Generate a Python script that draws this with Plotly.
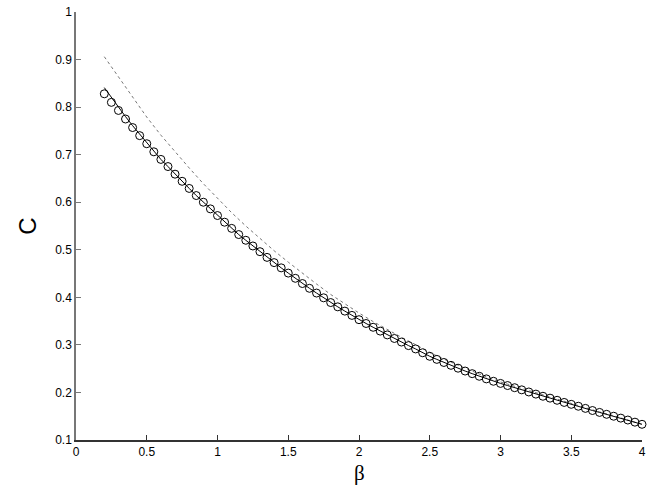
import plotly.graph_objects as go

# Sampled values (circles), beta = 0.2 ... 4.0 step 0.05
beta = [round(0.2 + 0.05 * i, 2) for i in range(77)]
c_values = [
    0.828, 0.810, 0.793, 0.775, 0.757, 0.740, 0.723, 0.706, 0.690, 0.675,
    0.659, 0.644, 0.629, 0.614, 0.600, 0.586, 0.572, 0.558, 0.545, 0.532,
    0.520, 0.508, 0.496, 0.484, 0.473, 0.462, 0.451, 0.440, 0.429, 0.419,
    0.409, 0.399, 0.389, 0.380, 0.371, 0.362, 0.353, 0.345, 0.337, 0.329,
    0.321, 0.3135, 0.306, 0.2985, 0.2915, 0.2835, 0.276, 0.2695, 0.263, 0.257,
    0.251, 0.245, 0.2395, 0.234, 0.2285, 0.2235, 0.219, 0.2145, 0.210, 0.2055,
    0.201, 0.1965, 0.192, 0.188, 0.1835, 0.179, 0.175, 0.171, 0.1665, 0.162,
    0.158, 0.154, 0.150, 0.146, 0.142, 0.1375, 0.133,
]

# Solid approximation (slightly above the circles at small beta)
c_solid = [
    0.841, 0.820, 0.799, 0.780, 0.761, 0.743, 0.725, 0.707, 0.690, 0.675,
    0.659, 0.644, 0.629, 0.614, 0.600, 0.586, 0.572, 0.558, 0.545, 0.532,
    0.520, 0.508, 0.496, 0.484, 0.473, 0.462, 0.451, 0.440, 0.429, 0.419,
    0.409, 0.399, 0.389, 0.380, 0.371, 0.362, 0.353, 0.345, 0.337, 0.329,
    0.321, 0.3135, 0.306, 0.2985, 0.2915, 0.2835, 0.276, 0.2695, 0.263, 0.257,
    0.251, 0.245, 0.2395, 0.234, 0.2285, 0.2235, 0.219, 0.2145, 0.210, 0.2055,
    0.201, 0.1965, 0.192, 0.188, 0.1835, 0.179, 0.175, 0.171, 0.1665, 0.162,
    0.158, 0.154, 0.150, 0.146, 0.142, 0.1375, 0.133,
]

# Dotted approximation, beta = 0.2 ... 4.0 step 0.1
beta_dot = [round(0.2 + 0.1 * i, 1) for i in range(39)]
c_dot = [
    0.906, 0.863, 0.820, 0.779, 0.741, 0.706, 0.672, 0.639, 0.608, 0.578,
    0.550, 0.523, 0.498, 0.474, 0.450, 0.428, 0.406, 0.386, 0.367, 0.349,
    0.332, 0.316, 0.3005, 0.284, 0.270, 0.257, 0.2445, 0.2325, 0.222, 0.213,
    0.203, 0.194, 0.1855, 0.176, 0.1675, 0.159, 0.151, 0.1425, 0.133,
]

x_ticks = [0, 0.5, 1, 1.5, 2, 2.5, 3, 3.5, 4]
x_labels = ['0', '0.5', '1', '1.5', '2', '2.5', '3', '3.5', '4']
y_ticks = [0.1, 0.2, 0.3, 0.4, 0.5, 0.6, 0.7, 0.8, 0.9, 1]
y_labels = ['0.1', '0.2', '0.3', '0.4', '0.5', '0.6', '0.7', '0.8', '0.9', '1']

fig = go.Figure()

fig.add_trace(go.Scatter(
    x=beta_dot, y=c_dot, mode='lines',
    line=dict(color='#777777', width=1, dash='dot'),
    showlegend=False
))

fig.add_trace(go.Scatter(
    x=beta, y=c_solid, mode='lines',
    line=dict(color='black', width=1),
    showlegend=False
))

fig.add_trace(go.Scatter(
    x=beta, y=c_values, mode='markers',
    marker=dict(symbol='circle-open', size=8, color='black', line=dict(width=1)),
    showlegend=False, cliponaxis=False
))

# x-axis label placed under the tick labels
fig.add_annotation(
    text='β', xref='paper', yref='paper', x=0.5, y=0,
    xanchor='center', yanchor='middle', yshift=-33, showarrow=False,
    font=dict(family='Liberation Serif, Times New Roman', size=21, color='black')
)

fig.update_layout(
    width=654,
    height=491,
    margin=dict(l=76, r=12, t=12, b=51, autoexpand=False),
    plot_bgcolor='white',
    paper_bgcolor='white',
    font=dict(family='Liberation Sans, Arial', size=12, color='black'),
    xaxis=dict(
        range=[0, 4],
        tickvals=x_ticks,
        ticktext=x_labels,
        ticks='inside',
        ticklen=5,
        tickcolor='#333333',
        showline=True,
        linecolor='#333333',
        linewidth=1.5,
        showgrid=False,
        zeroline=False,
        automargin=False,
        ticklabeloverflow='allow',
    ),
    yaxis=dict(
        range=[0.1, 1],
        tickvals=y_ticks,
        ticktext=y_labels,
        ticks='inside',
        ticklen=5,
        tickcolor='#777777',
        showline=True,
        linecolor='#777777',
        linewidth=1.5,
        showgrid=False,
        zeroline=False,
        automargin=False,
        ticklabeloverflow='allow',
        title=dict(text='C', font=dict(family='Liberation Sans, Arial', size=24), standoff=12),
    ),
)

# drop the default 8px page margin so the figure fills the window exactly
fig.write_html(
    "out.html",
    config={'displayModeBar': False},
    post_script="document.body.style.margin = '0';"
)
